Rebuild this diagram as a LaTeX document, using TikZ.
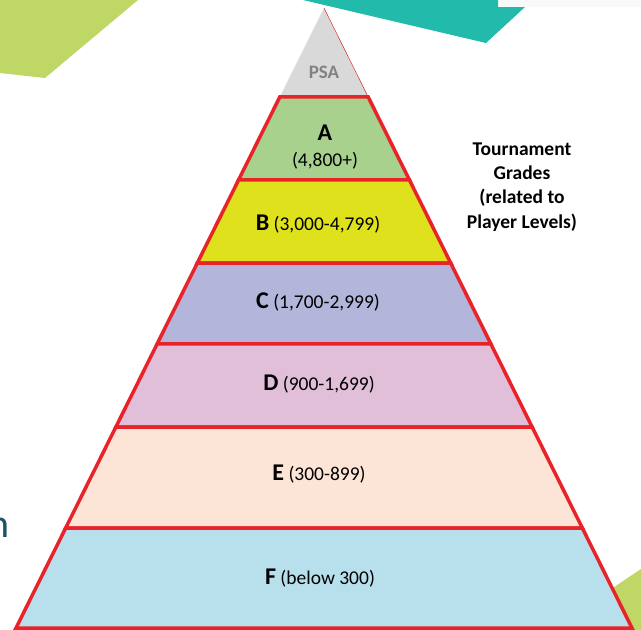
\documentclass[tikz,border=0pt]{standalone}
\usepackage{fontspec}
\setmainfont{Carlito}
\usepackage{tikz}
\usetikzlibrary{calc}
\definecolor{pyrred}{HTML}{E8232A}
\definecolor{capgray}{HTML}{D9D9D9}
\definecolor{captext}{HTML}{828282}
\definecolor{gradeA}{HTML}{A9D18E}
\definecolor{gradeB}{HTML}{DFE11D}
\definecolor{gradeC}{HTML}{B3B5DB}
\definecolor{gradeD}{HTML}{E1BFD9}
\definecolor{gradeE}{HTML}{FCE4D6}
\definecolor{gradeF}{HTML}{B8E0EC}
\definecolor{decogreen}{HTML}{BFD865}
\definecolor{decoteal}{HTML}{21BAAB}
\definecolor{decoink}{HTML}{1E5462}
\newcommand{\gradeletter}[1]{{\fontsize{24}{24}\selectfont\bfseries #1}}

\begin{document}
\begin{tikzpicture}[x=1pt,y=-1pt,
  rangetxt/.style={anchor=base,inner sep=0pt,font=\fontsize{19.5}{19.5}\selectfont}]
  \useasboundingbox (0,0) rectangle (641,630);
  % slide decoration behind the pyramid
  \fill[decogreen] (0,0) -- (138,0) -- (45,78) -- (0,73) -- cycle;
  \fill[gray!5] (498,0) rectangle (641,7);
  \fill[decoteal] (303,0) -- (498,0) -- (498,7) -- (525,7) -- (486,43) -- cycle;
  \fill[decogreen] (641,569) -- (550,630) -- (641,630) -- cycle;
  \node[text=decoink,anchor=base east,inner sep=0pt,font=\fontsize{40}{40}\selectfont] (cutword) at (10,537) {n};

  \coordinate (apex) at (324,8);
  \coordinate (bl) at (16,628);
  \coordinate (br) at (632,628);

  % grey top
  \fill[capgray] (apex) -- ($(apex)!0.1435!(bl)$) -- ($(apex)!0.1435!(br)$) -- cycle;
  \draw[pyrred,line width=0.5pt] (apex) -- ($(apex)!0.1435!(br)$);

  % grade bands
  \foreach \ta/\tb/\col in {0.1435/0.2774/gradeA, 0.2774/0.4113/gradeB,
      0.4113/0.5419/gradeC, 0.5419/0.6758/gradeD, 0.6758/0.8387/gradeE, 0.8387/1/gradeF}
    \filldraw[fill=\col,draw=pyrred,line width=3.5pt]
      ($(apex)!\ta!(bl)$) -- ($(apex)!\tb!(bl)$) -- ($(apex)!\tb!(br)$) -- ($(apex)!\ta!(br)$) -- cycle;

  \node[anchor=base,inner sep=0pt,text=captext,font=\fontsize{19}{19}\selectfont\bfseries] (psa) at (324,78) {PSA};
  \node[anchor=base,inner sep=0pt] (gradeAletter) at (325,140) {\gradeletter{A}};
  \node[rangetxt] (gradeArange) at (325,166) {(4,800+)};
  \node[rangetxt] (gradeBlabel) at (318,230) {\gradeletter{B} (3,000-4,799)};
  \node[rangetxt] (gradeClabel) at (318,308) {\gradeletter{C} (1,700-2,999)};
  \node[rangetxt] (gradeDlabel) at (319,390) {\gradeletter{D} (900-1,699)};
  \node[rangetxt] (gradeElabel) at (319,480) {\gradeletter{E} (300-899)};
  \node[rangetxt] (gradeFlabel) at (320,584) {\gradeletter{F} (below 300)};

  \node[align=center,inner sep=0pt,font=\fontsize{19.5}{24.3}\selectfont\bfseries] (legend) at (522,187)
    {Tournament\\Grades\\(related to\\Player Levels)};
\end{tikzpicture}
\end{document}
